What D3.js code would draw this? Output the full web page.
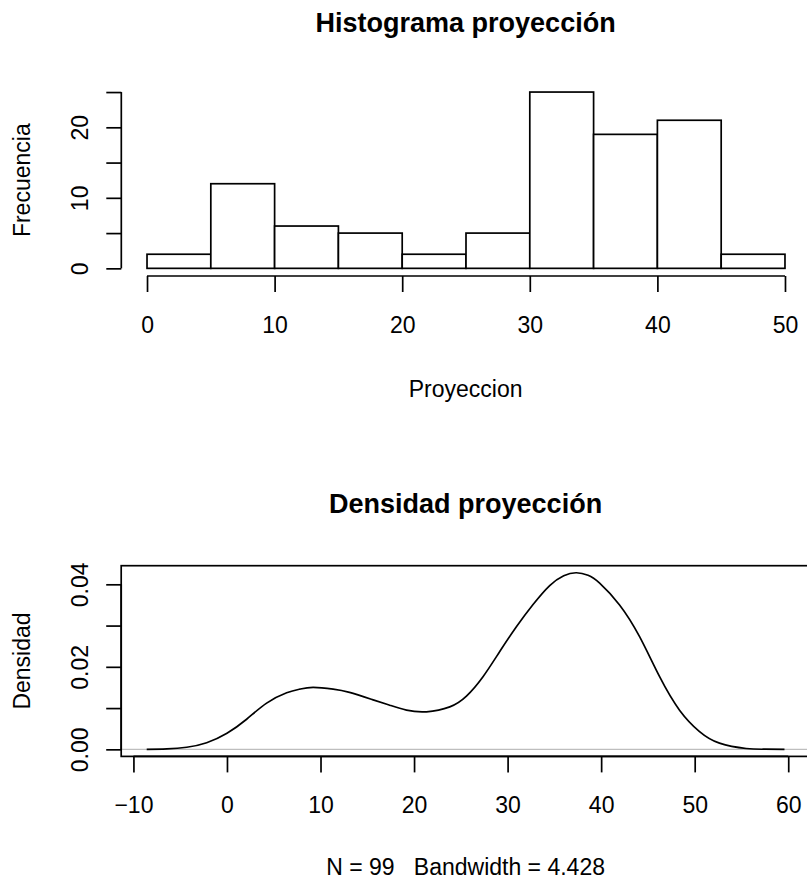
<!DOCTYPE html>
<html>
<head>
<meta charset="utf-8">
<script src="https://cdn.jsdelivr.net/npm/d3@7"></script>
<style>
  body { margin: 0; background: #fff; }
  svg { display: block; font-family: "Liberation Sans", Arial, sans-serif; }
  text { white-space: pre; }
</style>
</head>
<body>
<div class="chart"></div>
<script>
// histogram data
var histBreaks = [0, 5, 10, 15, 20, 25, 30, 35, 40, 45, 50];
var histCounts = [2, 12, 6, 5, 2, 5, 25, 19, 21, 2];
var histXTicks = [0, 10, 20, 30, 40, 50];
var histYTicks = [0, 5, 10, 15, 20, 25];
var histYLabels = ["0", "", "10", "", "20", ""];

// density curve
var densX = [-8.58, -6.44, -4.3, -2.17, 0, 2.1, 4.24, 6.38, 7.8, 9.22, 11.35, 13.1, 15.63, 17.4,
  19.19, 21.33, 23.82, 25.6, 27.37, 29.16, 30.94, 32.72, 34.5, 36.0, 37.35, 38.6, 39.84, 41.97,
  44.11, 46.25, 48.38, 50.52, 52.65, 55.5, 57.5, 59.6];
var densY = [0, 0.0001, 0.0005, 0.0016, 0.0039, 0.0073, 0.0112, 0.0137, 0.0146, 0.0150, 0.0146, 0.0138, 0.0120, 0.0107,
  0.0095, 0.0091, 0.0103, 0.0129, 0.0176, 0.0237, 0.0297, 0.0351, 0.0397, 0.0421, 0.0428, 0.0422, 0.0403, 0.0350,
  0.0273, 0.0176, 0.0095, 0.0043, 0.0015, 0.0002, 0.00003, 0];
var densXTicks = [-10, 0, 10, 20, 30, 40, 50, 60];
var densXLabels = ["\u221210", "0", "10", "20", "30", "40", "50", "60"];
var densYTicks = [0, 0.01, 0.02, 0.03, 0.04];
var densYLabels = ["0.00", "", "0.02", "", "0.04"];
var densSub = "N = 99   Bandwidth = 4.428";

var W = 807, H = 881;
var fontSize = 23;
var lw = 1.7;

var svg = d3.select(".chart").append("svg")
  .attr("width", W)
  .attr("height", H);
svg.append("rect").attr("width", W).attr("height", H).attr("fill", "#fff");

// R style axes: line only from first to last tick
function bottomAxis(g, scale, ticks, labels, y) {
  var ax = g.append("g")
    .attr("transform", "translate(0," + y + ")")
    .call(d3.axisBottom(scale).tickValues(ticks).tickSize(16).tickSizeOuter(0)
      .tickFormat(function(d, i) { return labels[i]; }));
  ax.select(".domain").remove();
  ax.selectAll(".tick line").attr("stroke", "#000").attr("stroke-width", lw);
  ax.selectAll(".tick text")
    .attr("y", 57).attr("dy", null)
    .attr("fill", "#000")
    .style("font-size", fontSize + "px")
    .style("font-family", "'Liberation Sans', Arial, sans-serif");
  ax.append("line")
    .attr("x1", scale(ticks[0])).attr("x2", scale(ticks[ticks.length - 1]))
    .attr("stroke", "#000").attr("stroke-width", lw);
}

function leftAxis(g, scale, ticks, labels, x) {
  var ax = g.append("g")
    .attr("transform", "translate(" + x + ",0)")
    .call(d3.axisLeft(scale).tickValues(ticks).tickSize(15).tickSizeOuter(0)
      .tickFormat(function(d, i) { return labels[i]; }));
  ax.select(".domain").remove();
  ax.selectAll(".tick line").attr("stroke", "#000").attr("stroke-width", lw);
  ax.selectAll(".tick text")
    .attr("x", null).attr("dy", null)
    .attr("text-anchor", "middle")
    .attr("transform", "translate(-33,0) rotate(-90)")
    .attr("fill", "#000")
    .style("font-size", fontSize + "px")
    .style("font-family", "'Liberation Sans', Arial, sans-serif");
  ax.append("line")
    .attr("y1", scale(ticks[0])).attr("y2", scale(ticks[ticks.length - 1]))
    .attr("stroke", "#000").attr("stroke-width", lw);
}

function titleText(txt, y) {
  svg.append("text")
    .attr("x", 465.6).attr("y", y)
    .attr("text-anchor", "middle")
    .style("font-size", "27px").style("font-weight", "bold")
    .text(txt);
}

function plainText(txt, x, y, rot) {
  svg.append("text")
    .attr("transform", "translate(" + x + "," + y + ")" + (rot ? " rotate(-90)" : ""))
    .attr("text-anchor", "middle")
    .style("font-size", fontSize + "px")
    .text(txt);
}

// ---------- histogram ----------
var hx = d3.scaleLinear().domain([-2, 52]).range([121.5, 810.5]);
var hy = d3.scaleLinear().domain([-1, 26]).range([275.4, 85]);
var hg = svg.append("g");

hg.selectAll("rect.bar")
  .data(histCounts)
  .enter().append("rect")
  .attr("class", "bar")
  .attr("x", function(d, i) { return hx(histBreaks[i]); })
  .attr("width", function(d, i) { return hx(histBreaks[i + 1]) - hx(histBreaks[i]); })
  .attr("y", function(d) { return hy(d); })
  .attr("height", function(d) { return hy(0) - hy(d); })
  .attr("fill", "#fff")
  .attr("stroke", "#000")
  .attr("stroke-width", lw);

bottomAxis(hg, hx, histXTicks, histXTicks.map(String), 276);
leftAxis(hg, hy, histYTicks, histYLabels, 121.3);

titleText("Histograma proyección", 31.7);
plainText("Proyeccion", 465.6, 396.6, false);
plainText("Frecuencia", 29.6, 180.2, true);

// ---------- density ----------
var xr = d3.extent(densX), xpad = (xr[1] - xr[0]) * 0.04;
var ymax = d3.max(densY);
var dx = d3.scaleLinear().domain([xr[0] - xpad, xr[1] + xpad]).range([121.2, 810]);
var dy = d3.scaleLinear().domain([-0.04 * ymax, 1.04 * ymax]).range([756.4, 565.7]);
var dg = svg.append("g");

// zero line
dg.append("line")
  .attr("x1", dx.range()[0]).attr("x2", dx.range()[1])
  .attr("y1", dy(0)).attr("y2", dy(0))
  .attr("stroke", "#bebebe").attr("stroke-width", 1.2);

var pts = densX.map(function(x, i) { return [x, densY[i]]; });
var line = d3.line()
  .curve(d3.curveNatural)
  .x(function(d) { return dx(d[0]); })
  .y(function(d) { return dy(d[1]); });

dg.append("path")
  .datum(pts)
  .attr("fill", "none")
  .attr("stroke", "#000")
  .attr("stroke-width", lw)
  .attr("stroke-linejoin", "round")
  .attr("d", line);

// box
dg.append("rect")
  .attr("x", dx.range()[0]).attr("y", dy.range()[1])
  .attr("width", dx.range()[1] - dx.range()[0])
  .attr("height", dy.range()[0] - dy.range()[1])
  .attr("fill", "none").attr("stroke", "#000").attr("stroke-width", lw);

bottomAxis(dg, dx, densXTicks, densXLabels, 756.4);
leftAxis(dg, dy, densYTicks, densYLabels, 121.2);

titleText("Densidad proyección", 512.5);
plainText(densSub, 465.6, 875, false);
plainText("Densidad", 29.6, 661, true);
</script>
</body>
</html>
